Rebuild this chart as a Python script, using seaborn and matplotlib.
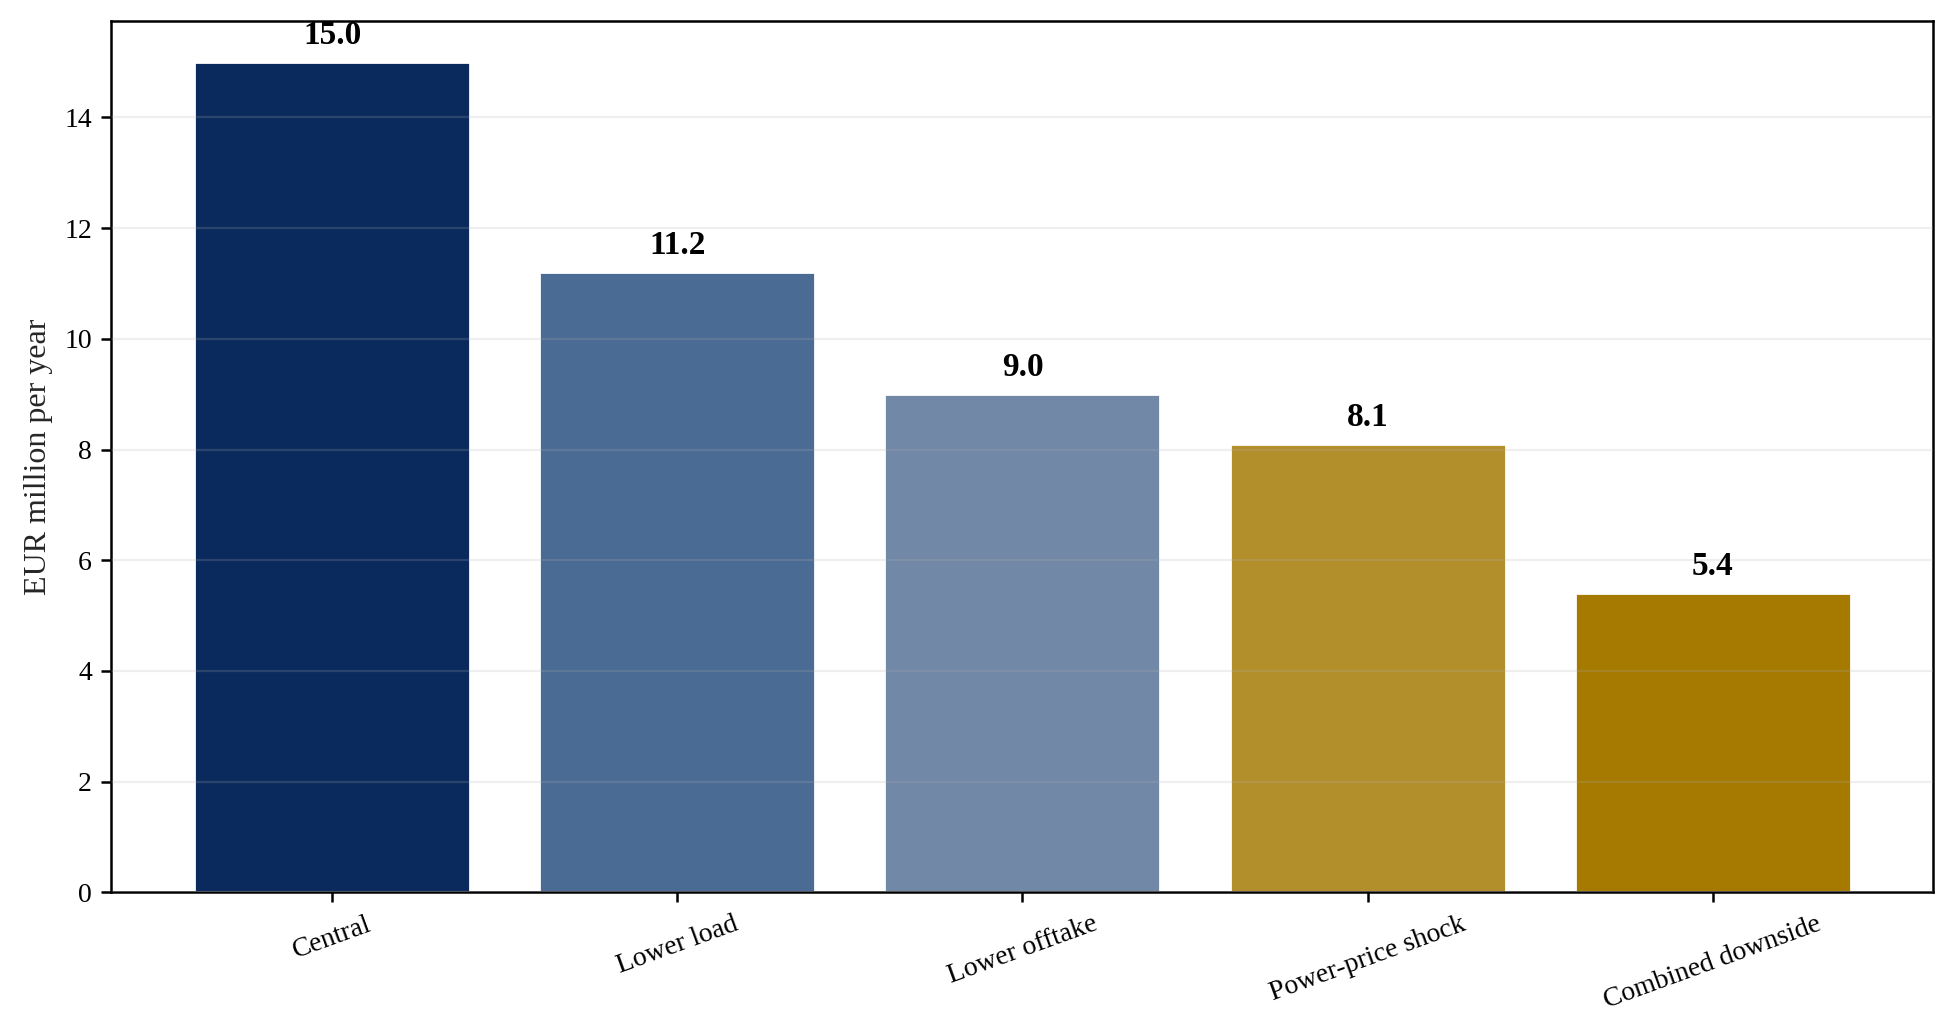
import pandas as pd
import matplotlib
matplotlib.use("Agg")
import matplotlib.pyplot as plt
import seaborn as sns

# =============================================================================
# Data
# =============================================================================

scenarios = ["Central", "Lower load", "Lower offtake", "Power-price shock", "Combined downside"]
values = [15.0, 11.2, 9.0, 8.1, 5.4]
bar_colors = ["#0a2a5e", "#4a6b94", "#7288a7", "#b38f2b", "#a67a00"]

df = pd.DataFrame({"scenario": scenarios, "value": values})

# =============================================================================
# Plot
# =============================================================================

sns.set_theme(style="white")
plt.rcParams["font.family"] = ["Liberation Serif", "DejaVu Serif"]
plt.rcParams["font.size"] = 10

fig = plt.figure(figsize=(9.775, 5.14), dpi=200)
ax = fig.add_axes([0.057, 0.132, 0.932, 0.848])

sns.barplot(data=df, x="scenario", y="value", hue="scenario",
            palette=bar_colors, saturation=1, width=0.8, legend=False, ax=ax)

# value labels above each bar
for i, v in enumerate(values):
    ax.text(i, v + 0.2, f"{v:.1f}", ha="center", va="bottom",
            fontsize=12, fontweight="bold", color="black")

ax.set_xlim(-0.64, 4.64)
ax.set_ylim(0, 15.75)
ax.set_xlabel("")
ax.set_ylabel("EUR million per year", fontsize=11.5)
ax.set_yticks([0, 2, 4, 6, 8, 10, 12, 14])

# grid sits on top of the bars, very faint
ax.set_axisbelow(False)
ax.yaxis.grid(True, color="#b0b0b0", alpha=0.2, linewidth=0.8)
ax.xaxis.grid(False)

for side in ["left", "right", "top", "bottom"]:
    ax.spines[side].set_visible(True)
    ax.spines[side].set_color("black")
    ax.spines[side].set_linewidth(0.9)

ax.tick_params(axis="both", which="major", direction="out", length=3.5,
               width=0.9, color="black", labelsize=10, labelcolor="black",
               bottom=True, left=True)
plt.setp(ax.get_xticklabels(), rotation=20, ha="center")

fig.savefig("out.png", dpi=200)
